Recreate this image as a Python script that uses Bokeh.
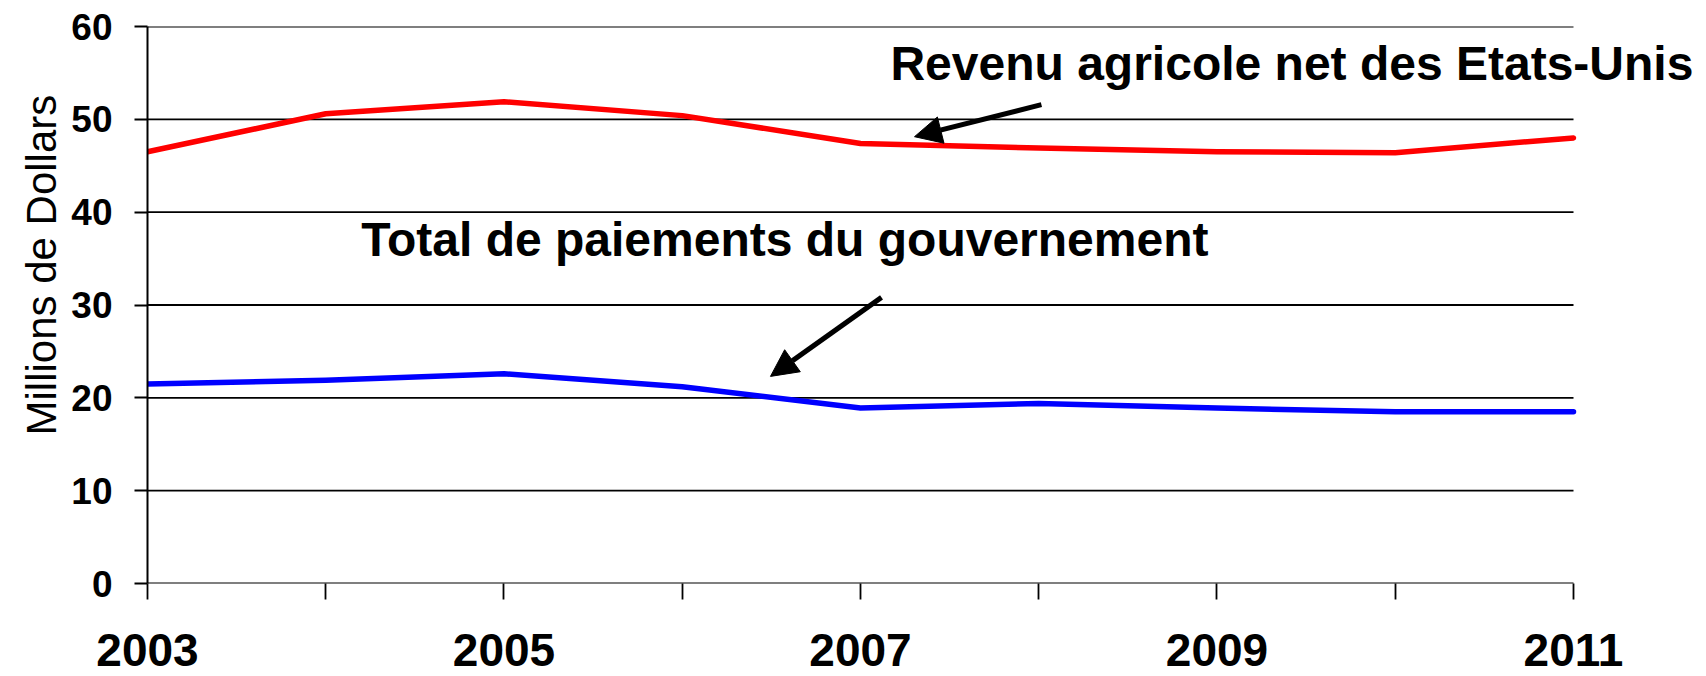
from bokeh.plotting import figure
from bokeh.models import FixedTicker, Range1d, Label, Arrow, NormalHead, Title
from bokeh.embed import file_html
from bokeh.resources import INLINE

# ---- data ----
years = [2003, 2004, 2005, 2006, 2007, 2008, 2009, 2010, 2011]
revenu_agricole = [46.5, 50.6, 51.9, 50.4, 47.4, 46.9, 46.5, 46.4, 48.0]
paiements_gouv = [21.5, 21.9, 22.6, 21.2, 18.9, 19.4, 18.9, 18.5, 18.5]
y_ticks = [0, 10, 20, 30, 40, 50, 60]
x_label_years = [2003, 2005, 2007, 2009, 2011]
x_minor_years = [2004, 2006, 2008, 2010]
y_axis_title = "Millions de Dollars"
label_revenu = "Revenu agricole net des Etats-Unis"
label_paiements = "Total de paiements du gouvernement"

FONT = "Liberation Sans"

p = figure(width=1700, height=676, output_backend="svg", toolbar_location=None,
           x_range=Range1d(years[0], years[-1] + 0.7125), y_range=Range1d(y_ticks[0], y_ticks[-1]),
           min_border_left=147, min_border_right=0, min_border_top=26, min_border_bottom=93)
p.outline_line_color = None
p.background_fill_color = "white"
p.border_fill_color = "white"

# horizontal grid lines drawn from 2003 to 2011 only
p.xgrid.visible = False
p.ygrid.visible = False
n = len(y_ticks)
p.segment(x0=[years[0]] * n, y0=y_ticks, x1=[years[-1]] * n, y1=y_ticks,
          line_color="black", line_width=1.8)

# y axis
ya = p.yaxis[0]
ya.ticker = FixedTicker(ticks=y_ticks)
ya.axis_line_color = "black"
ya.axis_line_width = 2
ya.major_tick_out = 13
ya.major_tick_in = 0
ya.major_tick_line_width = 1.8
ya.major_tick_line_color = "black"
ya.minor_tick_line_color = None
ya.major_label_text_font = FONT
ya.major_label_text_font_style = "bold"
ya.major_label_text_font_size = "37px"
ya.major_label_text_color = "black"
ya.major_label_standoff = 22

p.add_layout(Title(text=y_axis_title, align="left", offset=148, standoff=4,
                   vertical_align="top",
                   text_font=FONT, text_font_style="normal", text_font_size="42px",
                   text_color="black"), "left")

# x axis
xa = p.xaxis[0]
xa.ticker = FixedTicker(ticks=x_label_years, minor_ticks=x_minor_years)
xa.axis_line_color = None
xa.major_tick_out = 16
xa.major_tick_in = 0
xa.minor_tick_out = 16
xa.minor_tick_in = 0
xa.major_tick_line_width = 1.8
xa.minor_tick_line_width = 1.8
xa.major_tick_line_color = "black"
xa.minor_tick_line_color = "black"
xa.major_label_text_font = FONT
xa.major_label_text_font_style = "bold"
xa.major_label_text_font_size = "46px"
xa.major_label_text_color = "black"
xa.major_label_standoff = 34

# lines
p.line(years, revenu_agricole, line_color="#FF0000", line_width=5.5, line_cap="round", line_join="round")
p.line(years, paiements_gouv, line_color="#0000FF", line_width=5.5, line_cap="round", line_join="round")

# annotations
p.add_layout(Label(x=2007.168, y=56.05, text=label_revenu, text_font=FONT,
                   text_font_style="bold", text_font_size="48px", text_color="black",
                   text_baseline="alphabetic", text_align="left"))
p.add_layout(Label(x=2004.199, y=37.1, text=label_paiements, text_font=FONT,
                   text_font_style="bold", text_font_size="48px", text_color="black",
                   text_baseline="alphabetic", text_align="left"))

p.add_layout(Arrow(x_start=2008.015, y_start=51.58, x_end=2007.303, y_end=48.13,
                   line_color="black", line_width=5,
                   end=NormalHead(size=27, fill_color="black", line_color="black", line_width=1)))
p.add_layout(Arrow(x_start=2007.118, y_start=30.82, x_end=2006.495, y_end=22.31,
                   line_color="black", line_width=5,
                   end=NormalHead(size=27, fill_color="black", line_color="black", line_width=1)))

open("out.html", "w").write(file_html(p, INLINE))
